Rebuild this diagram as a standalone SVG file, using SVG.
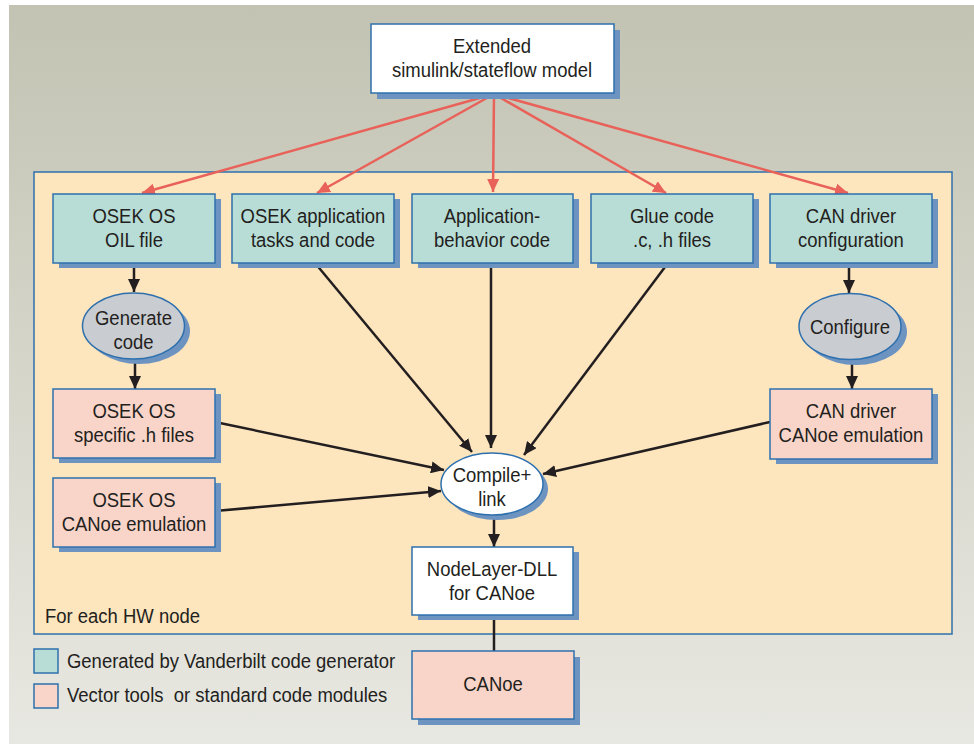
<svg xmlns="http://www.w3.org/2000/svg" width="974" height="744" viewBox="0 0 974 744">
<defs>
<linearGradient id="bg" x1="0" y1="0" x2="0" y2="1">
<stop offset="0" stop-color="#c3c3b3"/>
<stop offset="1" stop-color="#e8e8e2"/>
</linearGradient>
<marker id="ab" markerUnits="userSpaceOnUse" markerWidth="14" markerHeight="12" refX="13" refY="6" orient="auto">
<path d="M0,0 L13,6 L0,12 z" fill="#231f20"/>
</marker>
<marker id="ar" markerUnits="userSpaceOnUse" markerWidth="14" markerHeight="12" refX="13" refY="6" orient="auto">
<path d="M0,0 L13,6 L0,12 z" fill="#e8625a"/>
</marker>
</defs>
<style>
text{font-family:"Liberation Sans",Arial,sans-serif;font-size:21px;fill:#231f20;text-anchor:middle;transform-box:fill-box;transform-origin:center;transform:scaleX(0.88);white-space:pre}
.lt{text-anchor:start;transform-origin:left center}
.sh{fill:#6d93c1}
.bx{stroke:#2e70ad;stroke-width:1.5}
.teal{fill:#b8ddd7}
.pink{fill:#f9d5c9}
.white{fill:#ffffff}
.grey{fill:#c9ccd1}
.red{stroke:#e8625a;stroke-width:2.5;fill:none;marker-end:url(#ar)}
.blk{stroke:#231f20;stroke-width:2.5;fill:none;marker-end:url(#ab)}
.blkn{stroke:#231f20;stroke-width:2.5;fill:none}
</style>
<rect x="9" y="5" width="965" height="739" fill="url(#bg)"/>
<rect id="container" x="34" y="172" width="918" height="462" fill="#fde5bd" stroke="#2e70ad" stroke-width="1.5"/>
<text class="lt" x="45" y="623">For each HW node</text>

<g id="connectors">
<path class="red" d="M494,94 L142,193"/>
<path class="red" d="M494,94 L317,193"/>
<path class="red" d="M494,94 L493,192"/>
<path class="red" d="M494,94 L666,193"/>
<path class="red" d="M494,94 L848,193"/>
<path class="blk" d="M134,263 L134,292"/>
<path class="blk" d="M135,359 L135,389"/>
<path class="blk" d="M315,263 L472,452"/>
<path class="blk" d="M491,263 L491,448"/>
<path class="blk" d="M668,263 L524,455"/>
<path class="blk" d="M215,422 L444,470"/>
<path class="blk" d="M215,511 L441,491"/>
<path class="blk" d="M770,422 L543,474"/>
<path class="blk" d="M494,515 L494,547"/>
<path class="blkn" d="M494,615 L494,651"/>
<path class="blk" d="M849,263 L849,293"/>
<path class="blk" d="M852,360 L852,389"/>
</g>

<g id="model">
<rect class="sh" x="377" y="30" width="243" height="69"/>
<rect class="white bx" x="371" y="24" width="243" height="69"/>
<text x="492" y="53">Extended</text>
<text x="492" y="77">simulink/stateflow model</text>
</g>

<g id="oil">
<rect class="sh" x="59" y="199" width="162" height="69"/>
<rect class="teal bx" x="53" y="194" width="162" height="69"/>
<text x="134" y="223">OSEK OS</text>
<text x="134" y="247">OIL file</text>
</g>
<g id="apptasks">
<rect class="sh" x="238" y="199" width="162" height="69"/>
<rect class="teal bx" x="232" y="194" width="162" height="69"/>
<text x="313" y="223">OSEK application</text>
<text x="313" y="247">tasks and code</text>
</g>
<g id="appbehavior">
<rect class="sh" x="418" y="199" width="161" height="69"/>
<rect class="teal bx" x="412" y="194" width="161" height="69"/>
<text x="492" y="223">Application-</text>
<text x="492" y="247">behavior code</text>
</g>
<g id="glue">
<rect class="sh" x="597" y="199" width="162" height="69"/>
<rect class="teal bx" x="591" y="194" width="162" height="69"/>
<text x="672" y="223">Glue code</text>
<text x="672" y="247">.c, .h files</text>
</g>
<g id="candriver">
<rect class="sh" x="776" y="199" width="162" height="69"/>
<rect class="teal bx" x="770" y="194" width="162" height="69"/>
<text x="851" y="223">CAN driver</text>
<text x="851" y="247">configuration</text>
</g>

<g id="generate">
<ellipse class="sh" cx="139" cy="331" rx="51" ry="33"/>
<ellipse class="grey bx" cx="133.5" cy="326" rx="51" ry="33"/>
<text x="133.5" y="325">Generate</text>
<text x="133.5" y="349">code</text>
</g>
<g id="configure">
<ellipse class="sh" cx="856" cy="332" rx="51" ry="33"/>
<ellipse class="grey bx" cx="850" cy="326.5" rx="51" ry="33"/>
<text x="850" y="334">Configure</text>
</g>

<g id="osekh">
<rect class="sh" x="59" y="394" width="162" height="69"/>
<rect class="pink bx" x="53" y="389" width="162" height="69"/>
<text x="134" y="418">OSEK OS</text>
<text x="134" y="442">specific .h files</text>
</g>
<g id="osekemu">
<rect class="sh" x="59" y="483" width="162" height="69"/>
<rect class="pink bx" x="53" y="478" width="162" height="69"/>
<text x="134" y="507">OSEK OS</text>
<text x="134" y="531">CANoe emulation</text>
</g>
<g id="canemu">
<rect class="sh" x="776" y="394" width="162" height="70"/>
<rect class="pink bx" x="770" y="389" width="162" height="70"/>
<text x="851" y="418">CAN driver</text>
<text x="851" y="442">CANoe emulation</text>
</g>

<g id="compile">
<ellipse class="sh" cx="497" cy="489" rx="51" ry="31"/>
<ellipse class="white bx" cx="492" cy="484" rx="51" ry="31"/>
<text x="492" y="482">Compile+</text>
<text x="492" y="506">link</text>
</g>

<g id="nodelayer">
<rect class="sh" x="418" y="552" width="161" height="68"/>
<rect class="white bx" x="412" y="547" width="161" height="68"/>
<text x="492" y="576">NodeLayer-DLL</text>
<text x="492" y="600">for CANoe</text>
</g>

<g id="canoe">
<rect class="sh" x="418" y="657" width="162" height="68"/>
<rect class="pink bx" x="412" y="651" width="162" height="68"/>
<text x="493" y="691">CANoe</text>
</g>

<g id="legend">
<rect class="teal bx" x="34" y="649" width="24" height="24"/>
<text class="lt" x="67" y="668">Generated by Vanderbilt code generator</text>
<rect class="pink bx" x="34" y="684" width="24" height="24"/>
<text class="lt" x="67" y="702">Vector tools  or standard code modules</text>
</g>
</svg>
